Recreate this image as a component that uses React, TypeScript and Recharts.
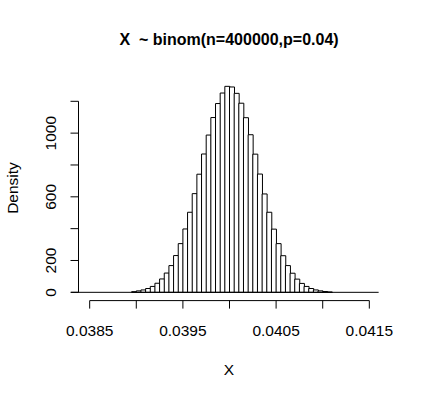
import React from "react"
import { ComposedChart, Bar, XAxis, YAxis, ReferenceLine } from "recharts"

// histogram of simulated X/n, bins of width 0.00005 starting at 0.0383
const binStart = 0.0383
const binWidth = 0.00005
const density = [
    0, 0, 0, 0, 0, 0, 0, 0, 0, 0, 0, 0, 0,
    4, 9, 15, 24, 37, 57, 84, 121, 168, 231, 306, 398, 503, 620, 742, 869, 988, 1098, 1186, 1252, 1294,
    1290, 1250, 1188, 1097, 990, 868, 743, 618, 503, 397, 306, 230, 168, 120, 83, 56, 37, 24, 15, 9, 5, 2,
    0, 0, 0, 0, 0, 0, 0, 0, 0, 0,
]
const xTicks = [0.0385, 0.039, 0.0395, 0.04, 0.0405, 0.041, 0.0415]
const xLabeled = ["0.0385", "0.0395", "0.0405", "0.0415"]
const yTicks = [0, 200, 400, 600, 800, 1000, 1200]
const yLabeled = [0, 200, 600, 1000]

const FONT = "'Liberation Sans', Arial, sans-serif"
const X_DOMAIN = [0.03838, 0.04162]
const Y_DOMAIN = [-52, 1342]

const data = density.map((d, i) => ({ mid: binStart + (i + 0.5) * binWidth, density: d }))
const binEnd = binStart + density.length * binWidth

function XTick(props: any) {
    const { x, y, payload } = props
    const label = String(payload.value)
    if (!xLabeled.includes(label)) return null
    return (
        <text x={x} y={y + 25.5} textAnchor="middle" fontFamily={FONT} fontSize={15.5} fill="#000">
            {label}
        </text>
    )
}

function YTick(props: any) {
    const { x, y, payload } = props
    if (!yLabeled.includes(payload.value)) return null
    const tx = x - 12.5
    return (
        <text x={tx} y={y} transform={`rotate(-90, ${tx}, ${y})`} textAnchor="middle" fontFamily={FONT} fontSize={15.5} fill="#000">
            {payload.value}
        </text>
    )
}

export default function App() {
    return (
        <div style={{ position: "absolute", left: 0, top: 0, width: 421, height: 399, background: "#fff" }}>
            <ComposedChart
                width={421}
                height={399}
                data={data}
                barCategoryGap={0}
                margin={{ top: 78.7, right: 40.5, bottom: 68.4, left: 38.5 }}
            >
                <XAxis
                    dataKey="mid"
                    type="number"
                    domain={X_DOMAIN}
                    allowDataOverflow
                    ticks={xTicks}
                    height={30}
                    axisLine={false}
                    tickSize={8}
                    tickLine={{ stroke: "#000", strokeWidth: 1 }}
                    tick={<XTick />}
                    interval={0}
                />
                <YAxis
                    type="number"
                    domain={Y_DOMAIN}
                    allowDataOverflow
                    ticks={yTicks}
                    width={40}
                    axisLine={false}
                    tickSize={8}
                    tickLine={{ stroke: "#000", strokeWidth: 1 }}
                    tick={<YTick />}
                    interval={0}
                />
                <Bar
                    dataKey="density"
                    fill="#fff"
                    stroke="#000"
                    strokeWidth={1}
                    isAnimationActive={false}
                />
                <ReferenceLine
                    segment={[{ x: binStart, y: 0 }, { x: binEnd, y: 0 }]}
                    stroke="#000"
                    strokeWidth={1}
                    ifOverflow="visible"
                />
                <ReferenceLine
                    segment={[{ x: xTicks[0], y: Y_DOMAIN[0] }, { x: xTicks[xTicks.length - 1], y: Y_DOMAIN[0] }]}
                    stroke="#000"
                    strokeWidth={1}
                    ifOverflow="visible"
                />
                <ReferenceLine
                    segment={[{ x: X_DOMAIN[0], y: yTicks[0] }, { x: X_DOMAIN[0], y: yTicks[yTicks.length - 1] }]}
                    stroke="#000"
                    strokeWidth={1}
                    ifOverflow="visible"
                />
            </ComposedChart>
            <svg width={421} height={399} style={{ position: "absolute", left: 0, top: 0, pointerEvents: "none" }}>
                <text x={229} y={45} textAnchor="middle" fontFamily={FONT} fontSize={16} fontWeight="bold" fill="#000" style={{ whiteSpace: "pre" }}>
                    {"X  ~ binom(n=400000,p=0.04)"}
                </text>
                <text x={229} y={375} textAnchor="middle" fontFamily={FONT} fontSize={15.5} fill="#000">
                    X
                </text>
                <text x={17.5} y={188} transform="rotate(-90, 17.5, 188)" textAnchor="middle" fontFamily={FONT} fontSize={15.5} fill="#000">
                    Density
                </text>
            </svg>
        </div>
    )
}
